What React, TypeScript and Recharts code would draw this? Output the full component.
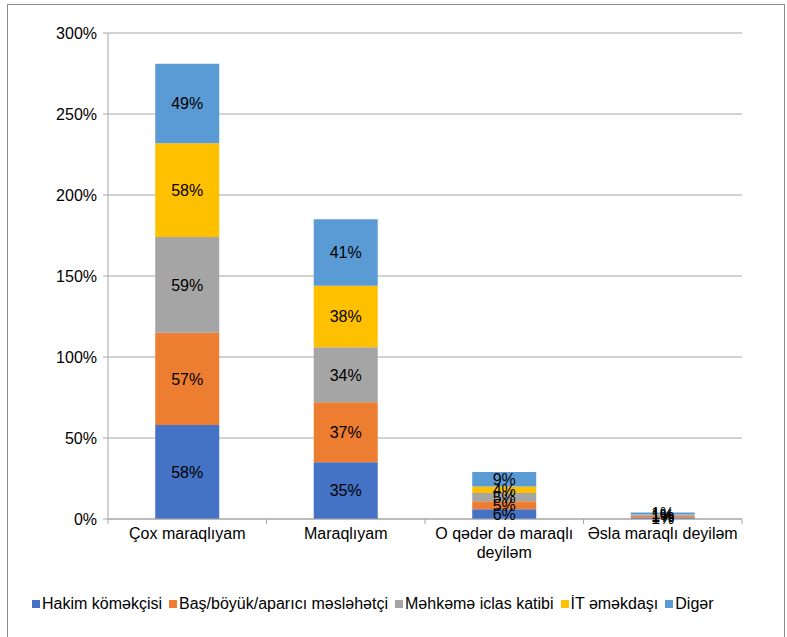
import { BarChart, Bar, XAxis, YAxis, CartesianGrid, LabelList } from "recharts"

const categories = ["Çox maraqlıyam", "Maraqlıyam", "O qədər də maraqlı deyiləm", "Əsla maraqlı deyiləm"]
const hakim = [58, 35, 6, 1]
const basMeslehetci = [57, 37, 5, 1]
const iclasKatibi = [59, 34, 5, 1]
const itEmekdasi = [58, 38, 4, 0]
const diger = [49, 41, 9, 1]
const yTicks = [0, 50, 100, 150, 200, 250, 300]

const series = [
  { key: "hakim", name: "Hakim köməkçisi", color: "#4472C4", values: hakim },
  { key: "bas", name: "Baş/böyük/aparıcı məsləhətçi", color: "#ED7D31", values: basMeslehetci },
  { key: "katib", name: "Məhkəmə iclas katibi", color: "#A5A5A5", values: iclasKatibi },
  { key: "it", name: "İT əməkdaşı", color: "#FFC000", values: itEmekdasi },
  { key: "diger", name: "Digər", color: "#5B9BD5", values: diger },
]

const data = categories.map((name, i) => {
  const row: Record<string, string | number> = { name }
  series.forEach((s) => (row[s.key] = s.values[i]))
  return row
})

const FONT = "'Liberation Sans', Arial, sans-serif"
const BAND = 158.5

function CategoryTick(props: any) {
  const { x, y, payload, index } = props
  const label: string = payload.value
  const lines = label === "O qədər də maraqlı deyiləm" ? ["O qədər də maraqlı", "deyiləm"] : [label]
  return (
    <g>
      <line x1={x - BAND / 2} y1={y - 8} x2={x - BAND / 2} y2={y - 3} stroke="#A6A6A6" />
      {index === categories.length - 1 && (
        <line x1={x + BAND / 2} y1={y - 8} x2={x + BAND / 2} y2={y - 3} stroke="#A6A6A6" />
      )}
      <text x={x} y={y + 12} textAnchor="middle" fontSize={16} fill="#000" fontFamily={FONT}>
        {lines.map((l, i) => (
          <tspan key={i} x={x} dy={i === 0 ? 0 : 19}>
            {l}
          </tspan>
        ))}
      </text>
    </g>
  )
}

const fmt = (v: any) => (v ? `${v}%` : "")

export default function App() {
  return (
    <div style={{ position: "absolute", left: 0, top: 0, width: 787, height: 637, background: "#fff", overflow: "hidden", fontFamily: FONT }}>
      <div
        style={{
          position: "absolute",
          left: 7,
          top: 4,
          width: 776,
          height: 700,
          border: "1px solid #8C8C8C",
        }}
      />
      <div style={{ position: "absolute", left: 0, top: 0 }}>
        <BarChart
          width={787}
          height={637}
          data={data}
          margin={{ top: 33, right: 45, bottom: 68, left: 48 }}
          barCategoryGap="29.8%"
        >
          <CartesianGrid vertical={false} stroke="#A6A6A6" />
          <XAxis
            dataKey="name"
            tick={<CategoryTick />}
            tickLine={false}
            axisLine={{ stroke: "#A6A6A6" }}
            height={50}
            interval={0}
          />
          <YAxis
            domain={[0, 300]}
            ticks={yTicks}
            tickFormatter={(v) => `${v}%`}
            width={60}
            tickSize={5}
            tickMargin={6}
            tickLine={{ stroke: "#A6A6A6" }}
            axisLine={{ stroke: "#A6A6A6" }}
            tick={{ fontSize: 16, fill: "#000", fontFamily: FONT }}
          />
          {series.map((s) => (
            <Bar key={s.key} dataKey={s.key} name={s.name} stackId="a" fill={s.color} isAnimationActive={false}>
              <LabelList dataKey={s.key} position="center" formatter={fmt} fill="#000" fontSize={16} fontFamily={FONT} />
            </Bar>
          ))}
        </BarChart>
      </div>
      <div style={{ position: "absolute", left: 32, top: 595, display: "flex", gap: 7, fontSize: 16, color: "#000", whiteSpace: "nowrap" }}>
        {series.map((s) => (
          <div key={s.key} style={{ display: "flex", alignItems: "center", gap: 2 }}>
            <span style={{ width: 8, height: 8, background: s.color, display: "inline-block" }} />
            <span>{s.name}</span>
          </div>
        ))}
      </div>
    </div>
  )
}
